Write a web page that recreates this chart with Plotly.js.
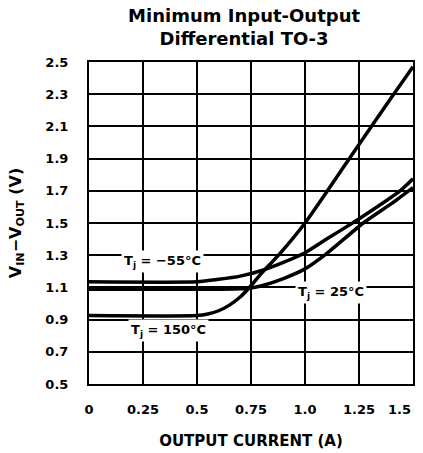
<!DOCTYPE html>
<html>
<head>
<meta charset="utf-8">
<script src="https://cdn.plot.ly/plotly-3.0.1.min.js"></script>
<style>html,body{margin:0;padding:0;background:#fff;}#chart{width:423px;height:453px;}</style>
</head>
<body>
<div id="chart"></div>
<script>
// Data
const current_m55 = [0, 0.5, 0.6, 0.7, 0.8, 0.9, 1.0, 1.1, 1.22, 1.3, 1.44, 1.5];
const vdiff_m55   = [1.135, 1.135, 1.15, 1.17, 1.205, 1.255, 1.315, 1.4, 1.5, 1.57, 1.7, 1.775];

const current_25 = [0, 0.5, 0.6, 0.7, 0.75, 0.8, 0.9, 1.0, 1.1, 1.27, 1.4, 1.5];
const vdiff_25   = [1.088, 1.088, 1.089, 1.091, 1.096, 1.11, 1.155, 1.215, 1.31, 1.5, 1.62, 1.72];

const current_150 = [0, 0.5, 0.55, 0.6, 0.65, 0.7, 0.75, 0.8, 0.884, 1.0, 1.2, 1.4, 1.5];
const vdiff_150   = [0.925, 0.925, 0.935, 0.955, 0.99, 1.04, 1.11, 1.19, 1.31, 1.5, 1.89, 2.28, 2.47];

const xTickVals = [0, 0.25, 0.5, 0.75, 1.0, 1.25, 1.5];
const xTickText = ["0", "0.25", "0.5", "0.75", "1.0", "1.25", "1.5"];
const yTickVals = [0.5, 0.7, 0.9, 1.1, 1.3, 1.5, 1.7, 1.9, 2.1, 2.3, 2.5];
const yTickText = ["0.5", "0.7", "0.9", "1.1", "1.3", "1.5", "1.7", "1.9", "2.1", "2.3", "2.5"];

const labelText = ["T<sub>j</sub> = −55°C", "T<sub>j</sub> = 25°C", "T<sub>j</sub> = 150°C"];
const labelX = [0.34, 1.12, 0.37];
const labelY = [1.26, 1.07, 0.835];

const FONT = "DejaVu Sans, Liberation Sans, Arial, sans-serif";
const tickFont = {family: FONT, size: 13, color: "#000", weight: "bold"};
const lineStyle = {color: "#000", width: 3.5, shape: "spline", smoothing: 0.6};

const traces = [
  {x: current_m55, y: vdiff_m55, mode: "lines", line: lineStyle, name: "Tj = -55°C", hoverinfo: "skip"},
  {x: current_25, y: vdiff_25, mode: "lines", line: lineStyle, name: "Tj = 25°C", hoverinfo: "skip"},
  {x: current_150, y: vdiff_150, mode: "lines", line: lineStyle, name: "Tj = 150°C", hoverinfo: "skip"}
];

const annotations = labelText.map((t, i) => ({
  x: labelX[i], y: labelY[i], xref: "x", yref: "y",
  text: t, showarrow: false, bgcolor: "#fff", borderpad: 2,
  font: {family: FONT, size: 13, color: "#000", weight: "bold"}
}));

// last x tick label sits flush with the right edge of the frame (as in the reference)
const lastIdx = xTickVals.length - 1;
annotations.push({
  x: xTickVals[lastIdx], xref: "x", y: 0, yref: "paper",
  xanchor: "right", yanchor: "middle", yshift: -25,
  text: xTickText[lastIdx], showarrow: false, font: tickFont
});
const xTickTextShown = xTickText.map((t, i) => i === lastIdx ? "" : t);

const layout = {
  width: 423, height: 453,
  margin: {l: 89, r: 10, t: 62, b: 69, pad: 0},
  paper_bgcolor: "#fff", plot_bgcolor: "#fff",
  showlegend: false,
  font: {family: FONT, color: "#000"},
  title: {
    text: "<b>Minimum Input-Output<br>Differential TO-3</b>",
    font: {family: FONT, size: 18, color: "#000"},
    xref: "container", yref: "container",
    x: 0.577, xanchor: "center", y: 0.952, yanchor: "top"
  },
  xaxis: {
    range: [0, 1.5], tickmode: "array", tickvals: xTickVals, ticktext: xTickTextShown,
    showgrid: true, gridcolor: "#000", gridwidth: 2,
    showline: true, linecolor: "#000", linewidth: 2, mirror: true,
    zeroline: false, ticks: "", ticklabelstandoff: 12,
    tickfont: tickFont,
    title: {text: "<b>OUTPUT CURRENT (A)</b>", font: {family: FONT, size: 15, color: "#000"}, standoff: 20},
    fixedrange: true
  },
  yaxis: {
    range: [0.5, 2.5], tickmode: "array", tickvals: yTickVals, ticktext: yTickText,
    showgrid: true, gridcolor: "#000", gridwidth: 2,
    showline: true, linecolor: "#000", linewidth: 2, mirror: true,
    zeroline: false, ticks: "", ticklabelstandoff: 16, ticklabeloverflow: "allow",
    tickfont: tickFont,
    title: {text: "<b>V<sub>IN</sub>−V<sub>OUT</sub> (V)</b>", font: {family: FONT, size: 16, color: "#000"}, standoff: 20},
    fixedrange: true
  },
  annotations: annotations
};

Plotly.newPlot("chart", traces, layout, {displayModeBar: false, staticPlot: true});
</script>
</body>
</html>
